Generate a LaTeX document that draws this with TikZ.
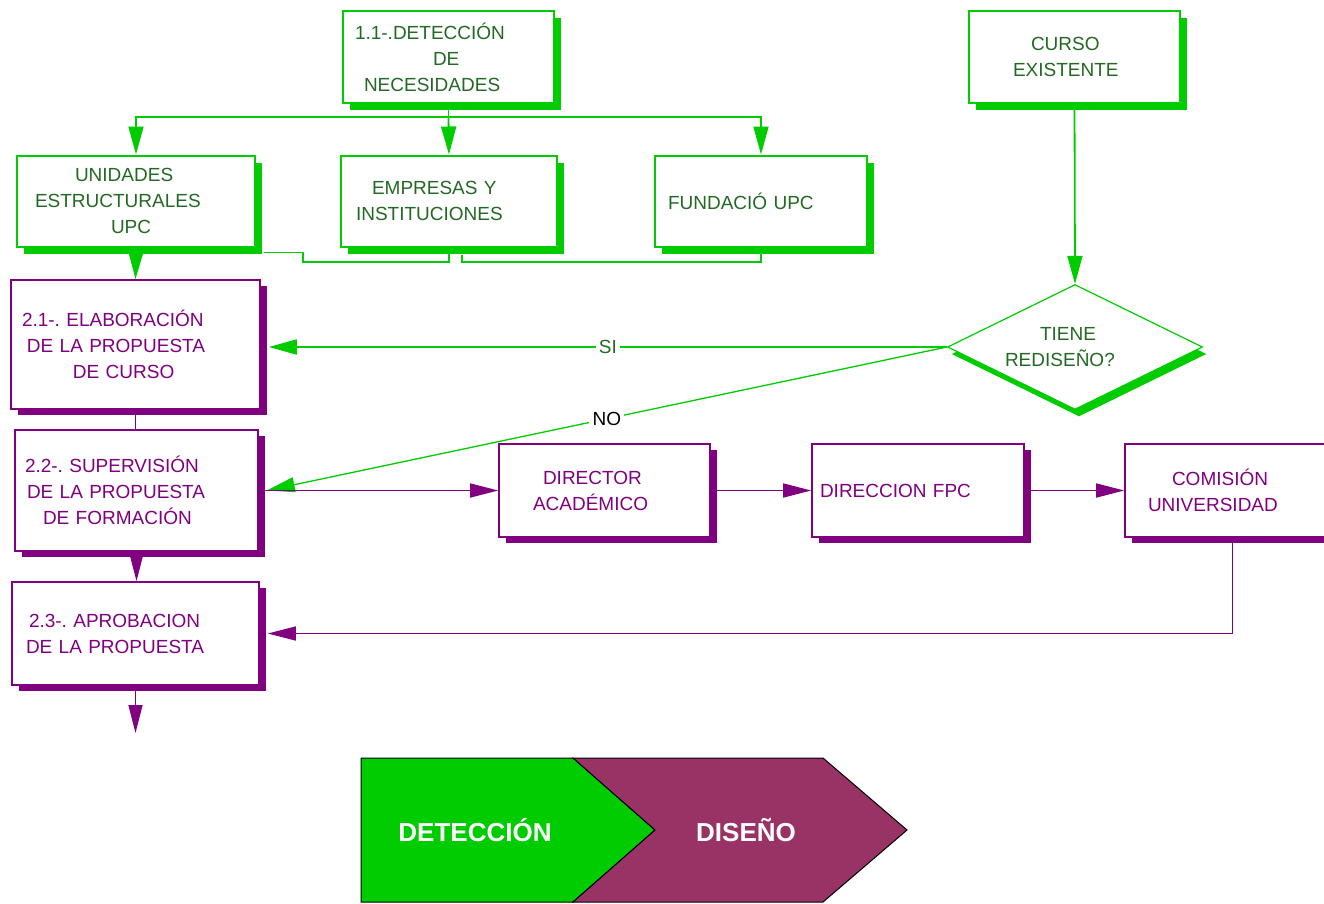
\documentclass[tikz,border=0pt]{standalone}
\usepackage{fontspec}
\setmainfont{Liberation Sans}
\usetikzlibrary{shapes.geometric,arrows.meta,shadows}
\definecolor{verde}{RGB}{0,204,0}
\definecolor{verdeosc}{RGB}{35,105,35}
\definecolor{morado}{RGB}{128,0,128}
\definecolor{granate}{RGB}{153,51,102}
\frenchspacing

\begin{document}
\begin{tikzpicture}[x=1pt, y=-1pt,
  every node/.style = {font=\fontsize{19}{26}\selectfont, align=left},
  cajav/.style = {shape=rectangle, draw=verde, line width=2pt, fill=white,
    text=verdeosc, inner sep=0pt,
    general shadow={fill=verde, shadow xshift=7pt, shadow yshift=-7pt}},
  cajam/.style = {shape=rectangle, draw=morado, line width=1.6pt, fill=white,
    text=morado, inner sep=0pt,
    general shadow={fill=morado, shadow xshift=7pt, shadow yshift=-6pt}}]
    \tikzstyle{lv}=[draw=verde, line width=1.8pt]
    \tikzstyle{lm}=[draw=morado, line width=1.4pt]
    \tikzstyle{flv}=[-{Triangle[length=28pt,width=15pt]}]
    \tikzstyle{flm}=[-{Triangle[length=28pt,width=14pt]}]
  \useasboundingbox (0,0) rectangle (1324,903);
  \clip (0,0) rectangle (1324,903);
  % deteccion
  \node [cajav, minimum width=211, minimum height=92, text width=187] (nec)
    at (448.5,57) {1.1-.DETECCI\'ON\\\hspace*{78pt}DE\\\hspace*{9pt}NECESIDADES};
  \node [cajav, minimum width=238, minimum height=91, text width=202] (unid)
    at (136,201) {\hspace*{40pt}UNIDADES\\ESTRUCTURALES\\\hspace*{76pt}UPC};
  \node [cajav, minimum width=216, minimum height=91, text width=186] (emp)
    at (449,201) {\hspace*{16pt}EMPRESAS Y\\INSTITUCIONES};
  \node [cajav, minimum width=212, minimum height=91, text width=186] (fund)
    at (761,201) {FUNDACI\'O UPC};
  \node [cajav, minimum width=211, minimum height=92, text width=123] (curso)
    at (1074.5,57) {\hspace*{18pt}CURSO\\EXISTENTE};
  \node [shape=diamond, draw=verde, line width=1.2pt, fill=white, text=verdeosc,
    inner sep=0pt, aspect=2, minimum width=255, minimum height=125, text width=140,
    general shadow={fill=verde, shadow xshift=4pt, shadow yshift=-7pt}]
    (redis) at (1075,347) {\hspace*{35pt}TIENE\\REDISE\~NO?};
  % diseno
  \node [cajam, minimum width=249, minimum height=129, text width=227] (elab)
    at (135.5,344.5)
    {2.1-. ELABORACI\'ON\\\hspace*{5pt}DE LA PROPUESTA\\\hspace*{51pt}DE CURSO};
  \node [cajam, minimum width=243, minimum height=121, text width=223] (superv)
    at (136.5,490.5)
    {2.2-. SUPERVISI\'ON\\\hspace*{2pt}DE LA PROPUESTA\\\hspace*{18pt}DE FORMACI\'ON};
  \node [cajam, minimum width=247, minimum height=103, text width=219] (aprob)
    at (135.5,633.5) {\hspace*{3pt}2.3-. APROBACION\\DE LA PROPUESTA};
  \node [cajam, minimum width=211, minimum height=93, text width=143] (dir)
    at (604.5,490.5) {\hspace*{10pt}DIRECTOR\\ACAD\'EMICO};
  \node [cajam, minimum width=212, minimum height=93, text width=196] (fpc)
    at (918,490.5) {DIRECCION FPC};
  \node [cajam, minimum width=215, minimum height=93, text width=169]
    (com) at (1232.5,490.5) {\hspace*{24pt}COMISI\'ON\\UNIVERSIDAD};

  \coordinate (bus) at (448.5,117);
  \draw [lv] (nec.south) -- (bus);
  \draw [lv, flv] (bus) -| (unid.north);
  \draw [lv, flv] (bus) -- (emp.north);
  \draw [lv, flv] (bus) -| (fund.north);
  \draw [lv] (emp.south) |- (303,262) |- ([shift={(8,5)}]unid.south east);
  \draw [lv] (fund.south) |- (462,262) -- ([shift={(13,7)}]emp.south);
  \draw [lv, flv] (unid.south) -- (elab.north);
  \draw [lv, flv] (curso.south) -- (redis.north);
  \path (elab.east |- redis.west) ++(8,0) coordinate (si);
  \draw [lv, flv] (redis.west) -- node [fill=white, text=verdeosc] {SI} (si);
  \draw [draw=verde, line width=1.3pt, flv] (redis.west)
    -- node [fill=white, text=black] {NO} ([xshift=8]superv.east);

  \draw [lm] (elab.south) -- (superv.north -| elab.south);
  \draw [lm, flm] (superv.south) -- (superv.south |- aprob.north);
  \coordinate (fin) at (137,733);
  \draw [lm, flm] (aprob.south) -- (aprob.south |- fin);
  \draw [lm, flm] (superv.east) -- (dir.west);
  \draw [lm, flm] (dir.east) -- (fpc.west);
  \draw [lm, flm] (fpc.east) -- (com.west);
  \draw [lm, line width=1.2pt, flm] (com.south) |- ([xshift=8]aprob.east);

  % fases
  \draw [fill=verde, line width=1pt] (361,758) -- (573,758) -- (655,830)
    -- (573,902) -- (361,902) -- cycle;
  \draw [fill=granate, line width=1pt] (573,758) -- (823,758) -- (907,830)
    -- (823,902) -- (573,902) -- (655,830) -- cycle;
  \node [text=white, font=\fontsize{26}{30}\selectfont\bfseries] (det) at (475,830)
    {DETECCI\'ON};
  \node [text=white, font=\fontsize{26}{30}\selectfont\bfseries] (dis) at (746,830)
    {DISE\~NO};
\end{tikzpicture}
\end{document}
